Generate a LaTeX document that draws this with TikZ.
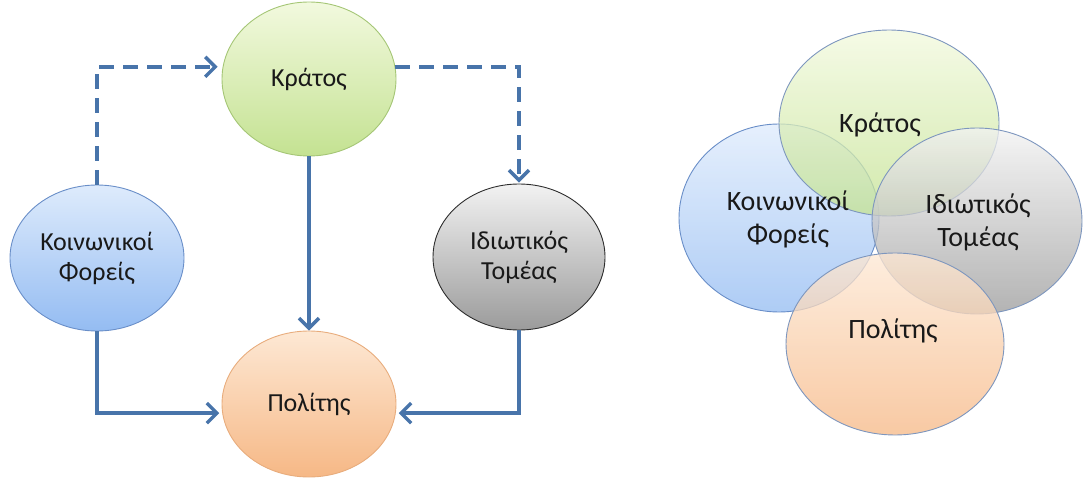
\documentclass[tikz,border=0pt]{standalone}
\usepackage{fontspec}
\setmainfont{Carlito}
\usetikzlibrary{shapes.geometric,arrows.meta}

\definecolor{flow}{RGB}{72,116,170}
\definecolor{ink}{RGB}{25,25,25}
\definecolor{grTop}{RGB}{242,249,222}
\definecolor{grBot}{RGB}{196,226,146}
\definecolor{grLine}{RGB}{165,198,118}
\definecolor{blTop}{RGB}{222,235,252}
\definecolor{blBot}{RGB}{148,188,242}
\definecolor{blLine}{RGB}{105,142,200}
\definecolor{gyTop}{RGB}{242,242,242}
\definecolor{gyBot}{RGB}{155,155,155}
\definecolor{gyLine}{RGB}{45,45,45}
\definecolor{orTop}{RGB}{253,232,212}
\definecolor{orBot}{RGB}{246,184,134}
\definecolor{orLine}{RGB}{232,172,124}
\definecolor{rimBlue}{RGB}{125,150,190}

\tikzset{
  bubble/.style={ellipse, inner sep=0pt, align=center, text=ink,
    line width=0.9pt, font=\fontsize{26}{30}\selectfont},
  bigbubble/.style={bubble, fill opacity=0.76, draw=rimBlue},
  bigtext/.style={text=ink, align=center, font=\fontsize{28}{33}\selectfont},
  green/.style={top color=grTop, bottom color=grBot, draw=grLine},
  blue/.style={top color=blTop, bottom color=blBot, draw=blLine},
  grey/.style={top color=gyTop, bottom color=gyBot, draw=gyLine},
  orange/.style={top color=orTop, bottom color=orBot, draw=orLine},
  link/.style={draw=flow, line width=4pt,
    -{Straight Barb[length=10pt,width=20pt,line width=3.4pt]}},
  dashlink/.style={link, dash pattern=on 15pt off 9pt},
}

\begin{document}
\begin{tikzpicture}[x=1pt, y=-1pt]
\useasboundingbox (0,0) rectangle (1083,478);

% flow diagram
\node[bubble, green, minimum width=174pt, minimum height=154pt] (kr) at (309,79) {Κράτος};
\node[bubble, blue,  minimum width=174pt, minimum height=146pt] (kf) at (97,258) {Κοινωνικοί\\Φορείς};
\node[bubble, grey,  minimum width=172pt, minimum height=146pt] (it) at (519,257) {Ιδιωτικός\\Τομέας};
\node[bubble, orange,minimum width=174pt, minimum height=146pt] (po) at (309,404) {Πολίτης};

\draw[dashlink, shorten >=5pt] (kf.north) |- (kr.172);
\draw[dashlink, shorten >=1pt] (kr.8) -| (it.north);
\draw[link] (kr.south) -- (po.north);
\draw[link, shorten >=3pt] (kf.south) |- (po.186);
\draw[link, shorten >=3pt] (it.south) |- (po.354);

% overlapping view
\node[bigbubble, blue,   draw=blLine, minimum width=200pt, minimum height=188pt] (vkf) at (779,218) {};
\node[bigbubble, green,  draw=rimBlue, minimum width=220pt, minimum height=186pt] (vkr) at (889,123) {};
\node[bigbubble, grey,   draw=rimBlue, minimum width=210pt, minimum height=186pt] (vit) at (977,221) {};
\node[bigbubble, orange, draw=rimBlue, minimum width=218pt, minimum height=182pt] (vpo) at (895,344) {};

\node[bigtext] (tkr) at (880,125) {Κράτος};
\node[bigtext] (tkf) at (788,219) {Κοινωνικοί\\Φορείς};
\node[bigtext] (tit) at (978,222) {Ιδιωτικός\\Τομέας};
\node[bigtext] (tpo) at (893,331) {Πολίτης};
\end{tikzpicture}
\end{document}
